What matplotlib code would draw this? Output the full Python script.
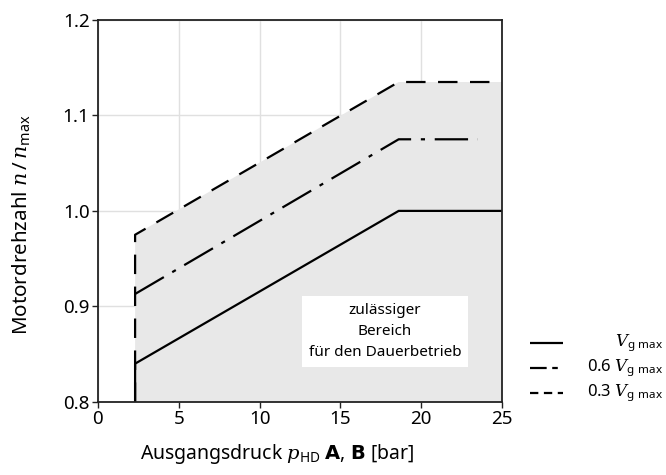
import matplotlib
matplotlib.use("Agg")
import matplotlib.pyplot as plt
from matplotlib.lines import Line2D

plt.rcParams['font.family'] = ['Noto Sans', 'DejaVu Sans']
plt.rcParams['mathtext.fontset'] = 'custom'
plt.rcParams['mathtext.rm'] = 'Noto Sans'
plt.rcParams['mathtext.it'] = 'DejaVu Serif:italic'
plt.rcParams['mathtext.bf'] = 'DejaVu Sans:bold'
plt.rcParams['lines.scale_dashes'] = False

# data
p_start = 2.3
p_knee = 18.6
p_end = 25.0
p_end_06 = 23.5
n_full = [0.84, 1.0]       # V_g max: start, plateau
n_06 = [0.913, 1.075]      # 0.6 V_g max
n_03 = [0.975, 1.135]      # 0.3 V_g max
n_min = 0.8

xticks = [0, 5, 10, 15, 20, 25]
yticks = [0.8, 0.9, 1.0, 1.1, 1.2]

fig = plt.figure(figsize=(6.66, 4.75), dpi=100)
ax = fig.add_axes([0.147, 0.154, 0.607, 0.804])

# permitted area
ax.fill([p_start, p_start, p_knee, p_end, p_end],
        [n_min, n_03[0], n_03[1], n_03[1], n_min],
        color='#e8e8e8', lw=0, zorder=1)

lw = 1.6
ax.plot([p_start, p_start, p_knee, p_end], [n_min, n_full[0], n_full[1], n_full[1]],
        color='black', lw=lw, zorder=3, solid_capstyle='butt')
ax.plot([p_start, p_knee, p_end_06], [n_06[0], n_06[1], n_06[1]],
        color='black', lw=lw, zorder=3, dashes=(24, 7, 3, 7), dash_capstyle='butt')
ax.plot([p_start, p_start, p_knee, p_end], [n_min, n_03[0], n_03[1], n_03[1]],
        color='black', lw=lw, zorder=3, dashes=(14, 9), dash_capstyle='butt')

ax.set_xlim(0, 25)
ax.set_ylim(0.8, 1.2)
ax.set_xticks(xticks)
ax.set_yticks(yticks)
ax.set_yticklabels(['0.8', '0.9', '1.0', '1.1', '1.2'])
ax.grid(True, color='#e0e0e0', lw=1.0, zorder=0)
ax.set_axisbelow(True)
ax.tick_params(labelsize=13.5, direction='out', length=4, width=1, color='#222222', pad=2)
for s in ax.spines.values():
    s.set_linewidth(1.3)
    s.set_color('#222222')
    s.set_zorder(5)

ax.set_xlabel(r'Ausgangsdruck $p_{\mathrm{HD}}$ $\mathbf{A}$, $\mathbf{B}$ [bar]', fontsize=14)
ax.set_ylabel(r'Motordrehzahl $n\,/\,n_{\mathrm{max}}$', fontsize=14.8)
ax.xaxis.set_label_coords((277 - 98) / 404, -0.105)
ax.yaxis.set_label_coords(-0.16, 0.463)

ax.text(17.75, 0.874, 'zulässiger\nBereich\nfür den Dauerbetrieb', ha='center', va='center',
        fontsize=11, linespacing=1.55, zorder=4,
        bbox=dict(facecolor='white', edgecolor='none', boxstyle='square,pad=0.45'))

# legend (manual)
labels = [r'$V_{\mathrm{g\ max}}$', r'0.6 $V_{\mathrm{g\ max}}$', r'0.3 $V_{\mathrm{g\ max}}$']
styles = [dict(), dict(dashes=(12, 4, 4, 4)), dict(dashes=(6, 4))]
ys = [343, 368, 393]
for lab, st, yp in zip(labels, styles, ys):
    yf = 1 - yp / 475
    fig.add_artist(Line2D([530 / 666, 563 / 666], [yf, yf], color='black', lw=1.6,
                          solid_capstyle='butt', dash_capstyle='butt', **st))
    fig.text(663 / 666, yf, lab, ha='right', va='center', fontsize=12)

fig.savefig('out.png', dpi=100)
